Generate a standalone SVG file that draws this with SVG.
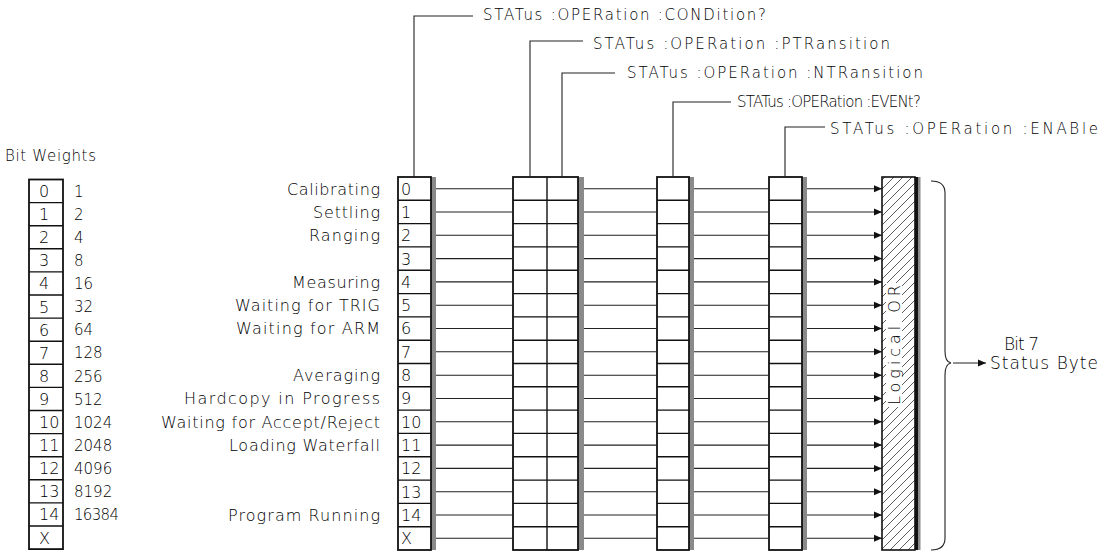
<svg xmlns="http://www.w3.org/2000/svg" width="1102" height="552" viewBox="0 0 1102 552">
<style>
text{font-family:"DejaVu Sans","Liberation Sans",sans-serif;fill:#000;font-weight:200}
.lbl{font-size:16px;text-anchor:end}
.dig{font-size:16px}
.wt{font-size:15px}
.top{font-size:15px}
.box{fill:#fff;stroke:#111;stroke-width:1.8}
.grid{fill:none;stroke:#111;stroke-width:1.4}
.shade{fill:#8a8a8a}
.wire{fill:none;stroke:#222;stroke-width:1.1}
</style>
<defs>
<marker id="ah" markerUnits="userSpaceOnUse" markerWidth="9" markerHeight="8" refX="8" refY="4" orient="auto">
<path d="M0,0.5 L8,4 L0,7.5 z" fill="#111"/>
</marker>
<pattern id="hatch" patternUnits="userSpaceOnUse" width="9" height="9">
<path d="M-1,1 L1,-1 M0,9 L9,0 M8,10 L10,8" stroke="#333" stroke-width="0.8"/>
</pattern>
</defs>
<rect width="1102" height="552" fill="#fff"/>

<g id="bit-weights">
<text x="5" y="161" class="top" textLength="91" lengthAdjust="spacing">Bit Weights</text>
<rect x="29" y="179.5" width="34" height="369.6" class="box"/>
<path class="grid" d="M29,202.6H63M29,225.7H63M29,248.8H63M29,271.9H63M29,295H63M29,318.1H63M29,341.2H63M29,364.3H63M29,387.4H63M29,410.5H63M29,433.6H63M29,456.7H63M29,479.8H63M29,502.9H63M29,526H63"/>
<g class="dig">
<text x="39" y="197">0</text><text x="39" y="220.1">1</text><text x="39" y="243.2">2</text><text x="39" y="266.3">3</text>
<text x="39" y="289.4">4</text><text x="39" y="312.5">5</text><text x="39" y="335.6">6</text><text x="39" y="358.7">7</text>
<text x="39" y="381.8">8</text><text x="39" y="404.9">9</text><text x="39" y="428">10</text><text x="39" y="451.1">11</text>
<text x="39" y="474.2">12</text><text x="39" y="497.3">13</text><text x="39" y="520.4">14</text><text x="39" y="543.5">X</text>
</g>
<g class="wt">
<text x="74" y="196.7">1</text><text x="74" y="219.8">2</text><text x="74" y="242.9">4</text><text x="74" y="266">8</text>
<text x="74" y="289.1">16</text><text x="74" y="312.2">32</text><text x="74" y="335.3">64</text><text x="74" y="358.4">128</text>
<text x="74" y="381.5">256</text><text x="74" y="404.6">512</text><text x="74" y="427.7">1024</text><text x="74" y="450.8">2048</text>
<text x="74" y="473.9">4096</text><text x="74" y="497">8192</text><text x="74" y="520.1" textLength="45" lengthAdjust="spacing">16384</text>
</g>
</g>

<g id="condition-labels">
<text class="lbl" x="380" y="194.5" textLength="93" lengthAdjust="spacing">Calibrating</text>
<text class="lbl" x="380" y="217.8" textLength="67" lengthAdjust="spacing">Settling</text>
<text class="lbl" x="380" y="241.1" textLength="71" lengthAdjust="spacing">Ranging</text>
<text class="lbl" x="380" y="287.7" textLength="88" lengthAdjust="spacing">Measuring</text>
<text class="lbl" x="380" y="311" textLength="145" lengthAdjust="spacing">Waiting for TRIG</text>
<text class="lbl" x="380" y="334.3" textLength="144" lengthAdjust="spacing">Waiting for ARM</text>
<text class="lbl" x="380" y="381" textLength="87" lengthAdjust="spacing">Averaging</text>
<text class="lbl" x="380" y="404.3" textLength="196" lengthAdjust="spacing">Hardcopy in Progress</text>
<text class="lbl" x="380" y="427.6" textLength="219" lengthAdjust="spacing">Waiting for Accept/Reject</text>
<text class="lbl" x="380" y="450.9" textLength="151" lengthAdjust="spacing">Loading Waterfall</text>
<text class="lbl" x="380" y="520.8" textLength="152" lengthAdjust="spacing">Program Running</text>
</g>

<g id="condition-register">
<rect x="431" y="177" width="5" height="373" class="shade"/>
<rect x="398" y="177" width="33" height="373" class="box"/>
<path class="grid" d="M398,200.3H431M398,223.6H431M398,246.9H431M398,270.3H431M398,293.6H431M398,316.9H431M398,340.2H431M398,363.5H431M398,386.8H431M398,410.1H431M398,433.4H431M398,456.8H431M398,480.1H431M398,503.4H431M398,526.7H431"/>
<g class="dig">
<text x="401" y="194.6">0</text><text x="401" y="217.9">1</text><text x="401" y="241.2">2</text><text x="401" y="264.5">3</text>
<text x="401" y="287.8">4</text><text x="401" y="311.1">5</text><text x="401" y="334.4">6</text><text x="401" y="357.7">7</text>
<text x="401" y="381.1">8</text><text x="401" y="404.4">9</text><text x="401" y="427.7">10</text><text x="401" y="451">11</text>
<text x="401" y="474.3">12</text><text x="401" y="497.6">13</text><text x="401" y="520.9">14</text><text x="401" y="544.2">X</text>
</g>
</g>

<g id="transition-registers">
<rect x="578" y="177" width="6" height="373" class="shade"/>
<rect x="513" y="177" width="65" height="373" class="box"/>
<path class="grid" d="M547,177V550M513,200.3H578M513,223.6H578M513,246.9H578M513,270.3H578M513,293.6H578M513,316.9H578M513,340.2H578M513,363.5H578M513,386.8H578M513,410.1H578M513,433.4H578M513,456.8H578M513,480.1H578M513,503.4H578M513,526.7H578"/>
</g>

<g id="event-register">
<rect x="689" y="177" width="5" height="373" class="shade"/>
<rect x="657" y="177" width="32" height="373" class="box"/>
<path class="grid" d="M657,200.3H689M657,223.6H689M657,246.9H689M657,270.3H689M657,293.6H689M657,316.9H689M657,340.2H689M657,363.5H689M657,386.8H689M657,410.1H689M657,433.4H689M657,456.8H689M657,480.1H689M657,503.4H689M657,526.7H689"/>
</g>

<g id="enable-register">
<rect x="802" y="177" width="5" height="373" class="shade"/>
<rect x="769" y="177" width="33" height="373" class="box"/>
<path class="grid" d="M769,200.3H802M769,223.6H802M769,246.9H802M769,270.3H802M769,293.6H802M769,316.9H802M769,340.2H802M769,363.5H802M769,386.8H802M769,410.1H802M769,433.4H802M769,456.8H802M769,480.1H802M769,503.4H802M769,526.7H802"/>
</g>

<g id="logical-or">
<rect x="915" y="177" width="3" height="373" fill="#111"/>
<rect x="918" y="177" width="2.5" height="373" class="shade"/>
<rect x="882" y="177" width="33" height="373" fill="url(#hatch)" stroke="#111" stroke-width="1.6"/>
<rect x="886" y="283" width="16" height="124" fill="#fff"/>
<text transform="translate(900,345) rotate(-90)" font-size="16" text-anchor="middle" textLength="120" lengthAdjust="spacing">Logical OR</text>
</g>

<g id="command-labels" class="top">
<text x="483" y="19.5" textLength="283" lengthAdjust="spacing">STATus :OPERation :CONDition?</text>
<text x="593" y="49" textLength="297" lengthAdjust="spacing">STATus :OPERation :PTRansition</text>
<text x="627" y="78" textLength="296" lengthAdjust="spacing">STATus :OPERation :NTRansition</text>
<text x="737" y="107" style="letter-spacing:-0.8px">STATus :OPERation :EVENt?</text>
<text x="830" y="134" textLength="268" lengthAdjust="spacing">STATus :OPERation :ENABle</text>
</g>

<g id="status-byte">
<text x="1004" y="350" font-size="17" textLength="35" lengthAdjust="spacing">Bit 7</text>
<text x="990" y="369" font-size="17" textLength="108" lengthAdjust="spacing">Status Byte</text>
</g>

<g id="connectors">
<path class="wire" d="M414,177V16H473M530,177V41H583M562,177V73H615M673,177V102H731M785,177V127H825"/>
<path class="wire" d="M436,188.7H513M584,188.7H657M694,188.7H769
M436,212H513M584,212H657M694,212H769
M436,235.3H513M584,235.3H657M694,235.3H769
M436,258.6H513M584,258.6H657M694,258.6H769
M436,281.9H513M584,281.9H657M694,281.9H769
M436,305.2H513M584,305.2H657M694,305.2H769
M436,328.5H513M584,328.5H657M694,328.5H769
M436,351.8H513M584,351.8H657M694,351.8H769
M436,375.2H513M584,375.2H657M694,375.2H769
M436,398.5H513M584,398.5H657M694,398.5H769
M436,421.8H513M584,421.8H657M694,421.8H769
M436,445.1H513M584,445.1H657M694,445.1H769
M436,468.4H513M584,468.4H657M694,468.4H769
M436,491.7H513M584,491.7H657M694,491.7H769
M436,515H513M584,515H657M694,515H769
M436,538.3H513M584,538.3H657M694,538.3H769"/>
<g class="wire" marker-end="url(#ah)">
<line x1="807" y1="188.7" x2="882" y2="188.7"/><line x1="807" y1="212" x2="882" y2="212"/>
<line x1="807" y1="235.3" x2="882" y2="235.3"/><line x1="807" y1="258.6" x2="882" y2="258.6"/>
<line x1="807" y1="281.9" x2="882" y2="281.9"/><line x1="807" y1="305.2" x2="882" y2="305.2"/>
<line x1="807" y1="328.5" x2="882" y2="328.5"/><line x1="807" y1="351.8" x2="882" y2="351.8"/>
<line x1="807" y1="375.2" x2="882" y2="375.2"/><line x1="807" y1="398.5" x2="882" y2="398.5"/>
<line x1="807" y1="421.8" x2="882" y2="421.8"/><line x1="807" y1="445.1" x2="882" y2="445.1"/>
<line x1="807" y1="468.4" x2="882" y2="468.4"/><line x1="807" y1="491.7" x2="882" y2="491.7"/>
<line x1="807" y1="515" x2="882" y2="515"/><line x1="807" y1="538.3" x2="882" y2="538.3"/>
</g>
<path class="wire" d="M931,181 Q945,181 945,193 V351 Q945,362 951,363 Q945,364 945,375 V538 Q945,550 931,550"/>
<path class="wire" d="M953,363H986" marker-end="url(#ah)"/>
</g>
</svg>
